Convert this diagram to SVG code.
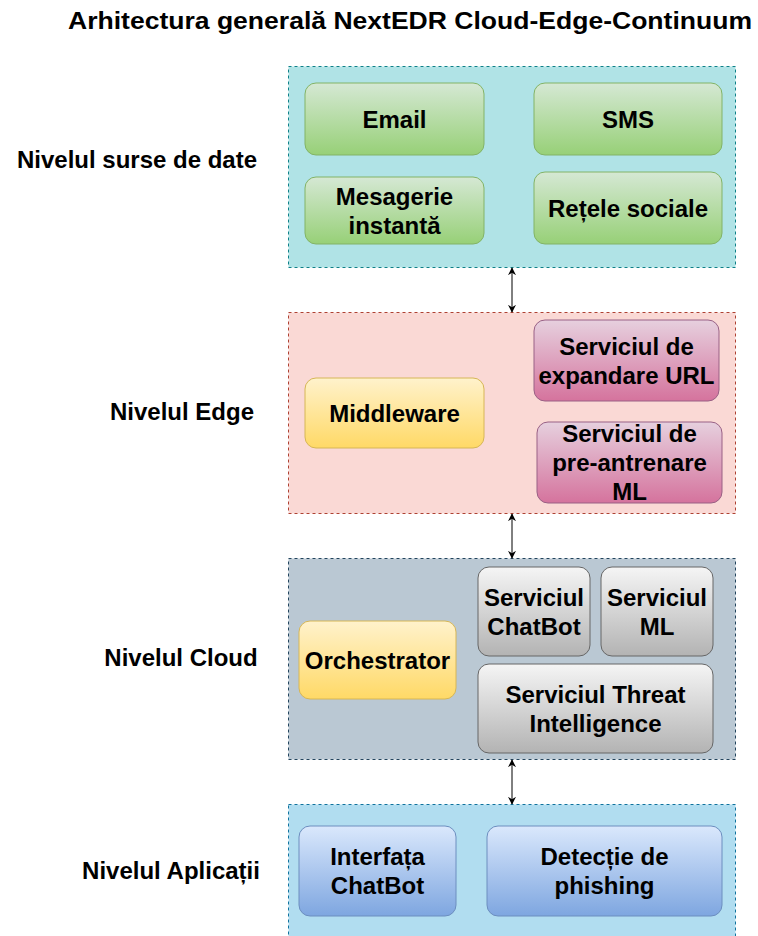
<svg xmlns="http://www.w3.org/2000/svg" width="758" height="936" viewBox="0 0 758 936">
  <defs>
    <linearGradient id="gGreen" x1="0" y1="0" x2="0" y2="1">
      <stop offset="0" stop-color="#d5e8d4"/>
      <stop offset="1" stop-color="#97d077"/>
    </linearGradient>
    <linearGradient id="gYellow" x1="0" y1="0" x2="0" y2="1">
      <stop offset="0" stop-color="#fff2cc"/>
      <stop offset="1" stop-color="#ffd966"/>
    </linearGradient>
    <linearGradient id="gPink" x1="0" y1="0" x2="0" y2="1">
      <stop offset="0" stop-color="#e6d0de"/>
      <stop offset="1" stop-color="#d5739d"/>
    </linearGradient>
    <linearGradient id="gGray" x1="0" y1="0" x2="0" y2="1">
      <stop offset="0" stop-color="#f5f5f5"/>
      <stop offset="1" stop-color="#b3b3b3"/>
    </linearGradient>
    <linearGradient id="gBlue" x1="0" y1="0" x2="0" y2="1">
      <stop offset="0" stop-color="#dae8fc"/>
      <stop offset="1" stop-color="#7ea6e0"/>
    </linearGradient>
    <marker id="arrow" viewBox="0 0 10 10" refX="9" refY="5" markerWidth="8" markerHeight="8" markerUnits="userSpaceOnUse" orient="auto-start-reverse">
      <path d="M0,0 L10,5 L0,10 L3,5 Z" fill="#000"/>
    </marker>
  </defs>
  <style>
    text { font-family: "Liberation Sans", Arial, sans-serif; font-weight: bold; fill: #000; }
    .title { font-size: 23px; }
    .lbl { font-size: 24px; text-anchor: middle; }
    .nt { font-size: 24px; text-anchor: middle; }
    .layer { stroke-width: 1; stroke-dasharray: 3 3; }
    .green { fill: url(#gGreen); stroke: #82b366; }
    .yellow { fill: url(#gYellow); stroke: #d6b656; }
    .pink { fill: url(#gPink); stroke: #996185; }
    .gray { fill: url(#gGray); stroke: #666666; }
    .blue { fill: url(#gBlue); stroke: #6c8ebf; }
    .link { stroke: #000; stroke-width: 1; fill: none; marker-start: url(#arrow); marker-end: url(#arrow); }
  </style>

  <rect width="758" height="936" fill="#ffffff"/>

  <text class="title" x="68" y="29" textLength="684" lengthAdjust="spacingAndGlyphs">Arhitectura generală NextEDR Cloud-Edge-Continuum</text>

  <!-- layer containers -->
  <g id="layer-sources">
    <rect class="layer" x="288.5" y="66.5" width="447" height="201" fill="#b0e3e6" stroke="#0e8088"/>
    <text class="lbl" x="137" y="168">Nivelul surse de date</text>
  </g>
  <g id="layer-edge">
    <rect class="layer" x="288.5" y="312.5" width="447" height="201" fill="#fad9d5" stroke="#ae4132"/>
    <text class="lbl" x="182" y="420">Nivelul Edge</text>
  </g>
  <g id="layer-cloud">
    <rect class="layer" x="288.5" y="558.5" width="447" height="201" fill="#bac8d3" stroke="#23445d"/>
    <text class="lbl" x="181" y="666">Nivelul Cloud</text>
  </g>
  <g id="layer-app">
    <rect class="layer" x="288.5" y="804.5" width="447" height="140" fill="#b1ddf0" stroke="#10739e"/>
    <text class="lbl" x="171" y="879">Nivelul Aplicații</text>
  </g>

  <!-- data source nodes -->
  <g id="email">
    <rect class="green" x="305" y="83" width="179" height="72" rx="11"/>
    <text class="nt" x="394.5" y="127.5">Email</text>
  </g>
  <g id="sms">
    <rect class="green" x="534" y="83" width="188" height="72" rx="11"/>
    <text class="nt" x="628" y="127.5">SMS</text>
  </g>
  <g id="mesagerie">
    <rect class="green" x="305" y="177" width="179" height="67" rx="11"/>
    <text class="nt" x="394.5" y="205">Mesagerie</text>
    <text class="nt" x="394.5" y="234">instantă</text>
  </g>
  <g id="retele">
    <rect class="green" x="534" y="172" width="188" height="72" rx="11"/>
    <text class="nt" x="628" y="216.5">Rețele sociale</text>
  </g>

  <!-- edge nodes -->
  <g id="middleware">
    <rect class="yellow" x="305" y="378" width="179" height="70" rx="11"/>
    <text class="nt" x="394.5" y="421.5">Middleware</text>
  </g>
  <g id="url-expand">
    <rect class="pink" x="534" y="320" width="185" height="81" rx="11"/>
    <text class="nt" x="626.5" y="354.5">Serviciul de</text>
    <text class="nt" x="626.5" y="383.5">expandare URL</text>
  </g>
  <g id="ml-pretrain">
    <rect class="pink" x="537" y="422" width="185" height="81" rx="11"/>
    <text class="nt" x="629.5" y="442">Serviciul de</text>
    <text class="nt" x="629.5" y="471">pre-antrenare</text>
    <text class="nt" x="629.5" y="500">ML</text>
  </g>

  <!-- cloud nodes -->
  <g id="orchestrator">
    <rect class="yellow" x="299" y="621" width="157" height="78" rx="11"/>
    <text class="nt" x="377.5" y="668.5">Orchestrator</text>
  </g>
  <g id="chatbot-svc">
    <rect class="gray" x="478" y="567" width="112" height="89" rx="11"/>
    <text class="nt" x="534" y="605.5">Serviciul</text>
    <text class="nt" x="534" y="634.5">ChatBot</text>
  </g>
  <g id="ml-svc">
    <rect class="gray" x="601" y="567" width="112" height="89" rx="11"/>
    <text class="nt" x="657" y="605.5">Serviciul</text>
    <text class="nt" x="657" y="634.5">ML</text>
  </g>
  <g id="threat-intel">
    <rect class="gray" x="478" y="664" width="235" height="89" rx="11"/>
    <text class="nt" x="595.5" y="702.5">Serviciul Threat</text>
    <text class="nt" x="595.5" y="731.5">Intelligence</text>
  </g>

  <!-- application nodes -->
  <g id="chatbot-ui">
    <rect class="blue" x="299" y="826" width="157" height="90" rx="11"/>
    <text class="nt" x="377.5" y="865">Interfața</text>
    <text class="nt" x="377.5" y="894">ChatBot</text>
  </g>
  <g id="phishing">
    <rect class="blue" x="487" y="826" width="235" height="90" rx="11"/>
    <text class="nt" x="604.5" y="865">Detecție de</text>
    <text class="nt" x="604.5" y="894">phishing</text>
  </g>

  <!-- connectors between layers -->
  <g id="connectors">
    <line class="link" x1="512" y1="268" x2="512" y2="312"/>
    <line class="link" x1="512" y1="514" x2="512" y2="558"/>
    <line class="link" x1="512" y1="760" x2="512" y2="804"/>
  </g>
</svg>
